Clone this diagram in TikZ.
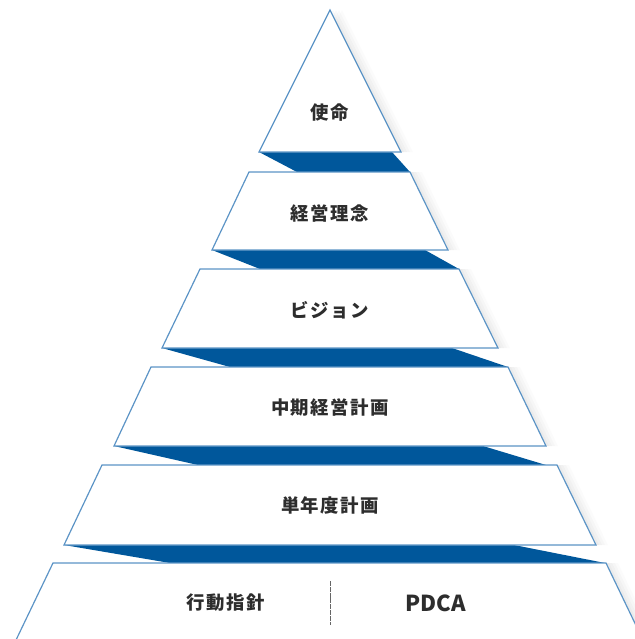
\documentclass[tikz,border=0pt]{standalone}
\usepackage{fontspec}
\usepackage{tikz}
\usetikzlibrary{shadows}
\newfontfamily\jpfont{Noto Sans CJK JP}[LetterSpace=8]
\newfontfamily\latinfont{Noto Sans CJK JP}
\definecolor{edgeblue}{RGB}{92,148,198}
\definecolor{bandblue}{RGB}{0,87,155}
\definecolor{textgray}{RGB}{45,45,45}
\tikzset{tier/.style = {draw = edgeblue, fill = white, line width = 0.6pt,
    drop shadow = {shadow xshift = 1.5pt, shadow yshift = 0pt, opacity = 0.05},
    drop shadow = {shadow xshift = 3pt, shadow yshift = 0pt, opacity = 0.05},
    drop shadow = {shadow xshift = 4.5pt, shadow yshift = 0pt, opacity = 0.04},
    drop shadow = {shadow xshift = 6pt, shadow yshift = 0pt, opacity = 0.03}}}
\tikzset{band/.style = {fill = bandblue}}
\tikzset{tiertext/.style = {text = textgray, font = \jpfont\bfseries\fontsize{9.2}{11}\selectfont}}
\tikzset{divider/.style = {draw = gray!80!black, line width = 0.4pt, dash pattern = on 2.5pt off 0.4pt}}

\begin{document}
\begin{tikzpicture}[x = 0.5pt, y = -0.5pt]
    \useasboundingbox (0, 0) rectangle (635, 639);
    \clip (0, 0) rectangle (635, 639);

    \fill [band] (259, 152) -- (392, 152) -- (410, 172) -- (297, 172) -- cycle;
    \fill [band] (212, 250) -- (425, 250) -- (459, 269) -- (260, 269) -- cycle;
    \fill [band] (162, 348) -- (452, 348) -- (508, 367) -- (230, 367) -- cycle;
    \fill [band] (114, 446) -- (483, 446) -- (546, 465) -- (198, 465) -- cycle;
    \fill [band] (64, 545) -- (514, 545) -- (605, 563) -- (170, 563) -- cycle;

    \draw [tier] (330, 10) -- (401, 152) -- (259, 152) -- cycle;
    \draw [tier] (249, 172) -- (410, 172) -- (448, 250) -- (212, 250) -- cycle;
    \draw [tier] (200, 269) -- (459, 269) -- (498, 348) -- (162, 348) -- cycle;
    \draw [tier] (151, 367) -- (508, 367) -- (546, 446) -- (114, 446) -- cycle;
    \draw [tier] (102, 465) -- (557, 465) -- (596, 545) -- (64, 545) -- cycle;
    \draw [tier] (53, 563) -- (606, 563) -- (655, 665) -- (4, 665) -- cycle;

    \node [tiertext] (mission) at (330, 113) {使命};
    \node [tiertext] (philosophy) at (330, 213) {経営理念};
    \node [tiertext] (vision) at (330, 310) {ビジョン};
    \node [tiertext] (midterm) at (330, 407) {中期経営計画};
    \node [tiertext] (annual) at (330, 505) {単年度計画};
    \node [tiertext] (conduct) at (226, 603) {行動指針};
    \node [tiertext, font = \latinfont\bfseries\fontsize{11}{13}\selectfont] (pdca) at (436, 603) {PDCA};

    \draw [divider] (330, 581) -- (330, 625);
\end{tikzpicture}
\end{document}
